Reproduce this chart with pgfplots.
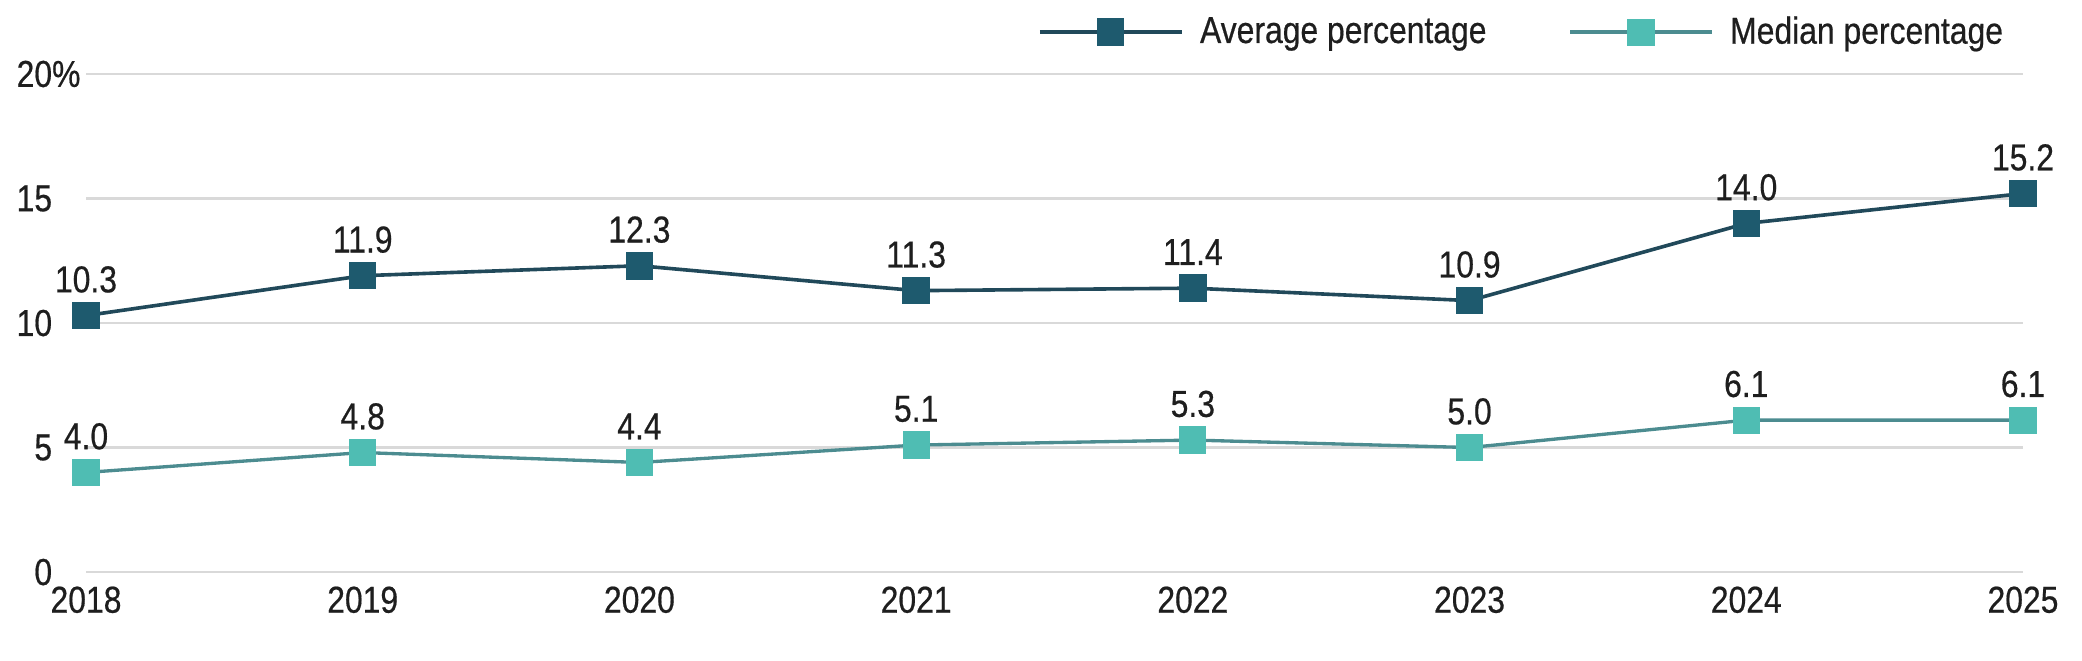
\documentclass[border=0pt]{standalone}
\usepackage{pgfplots}
\pgfplotsset{compat=1.18}
\usepackage{fontspec}
\setmainfont{Liberation Sans}[FakeStretch=0.85,FakeBold=0.5]
\definecolor{avgline}{HTML}{21495A}
\definecolor{avgmark}{HTML}{1E5A6E}
\definecolor{medline}{HTML}{4C8C90}
\definecolor{medmark}{HTML}{4FBDB3}
\definecolor{gridc}{HTML}{D9D9D9}
\definecolor{txt}{HTML}{1E1E1E}
\newcommand{\lblfont}{\fontsize{13.5}{16}\selectfont}
\begin{document}
\begin{tikzpicture}
\begin{axis}[
  name=ax, scale only axis, width=697.3pt, height=179.3pt,
  xmin=2018, xmax=2025, ymin=0, ymax=20,
  clip=false,
  axis line style={draw=none},
  major tick length=0pt,
  xtick={2018,2019,2020,2021,2022,2023,2024,2025},
  xticklabels={2018,2019,2020,2021,2022,2023,2024,2025},
  ytick={0,5,10,15,20},
  yticklabels={0,5,10,15,{20\rlap{\%}}},
  ymajorgrids, grid style={gridc, line width=0.8pt},
  xticklabel style={font=\lblfont, text=txt, anchor=north, inner sep=0pt, yshift=-5pt},
  yticklabel style={font=\lblfont, text=txt, anchor=east, inner sep=0pt, xshift=-12pt},
  /pgf/number format/assume math mode=true,
  nodes near coords={\pgfmathprintnumber[fixed,fixed zerofill,precision=1]{\pgfplotspointmeta}},
  nodes near coords style={font=\lblfont, text=txt, anchor=center, inner sep=0pt, yshift=13pt},
  legend columns=2,
  legend style={draw=none, fill=none, inner sep=0pt, font=\lblfont, text=txt,
    at={(axis description cs:0.990,1.084)}, anchor=east,
    nodes={inner sep=0pt},
    /tikz/every odd column/.append style={column sep=6pt},
    /tikz/every even column/.append style={column sep=29.5pt}},
  legend image code/.code={\draw[mark repeat=2,mark phase=2,#1] plot coordinates {(0pt,0pt) (25.5pt,0pt) (51pt,0pt)};},
]
\addplot[avgline, line width=1.3pt, mark=square*, mark size=4.3pt,
  mark options={fill=avgmark, draw=avgmark}] coordinates {
  (2018,10.3) (2019,11.9) (2020,12.3) (2021,11.3) (2022,11.4) (2023,10.9) (2024,14.0) (2025,15.2)};
\addlegendentry{Average percentage}
\addplot[medline, line width=1.2pt, mark=square*, mark size=4.3pt,
  mark options={fill=medmark, draw=medmark}] coordinates {
  (2018,4.0) (2019,4.8) (2020,4.4) (2021,5.1) (2022,5.3) (2023,5.0) (2024,6.1) (2025,6.1)};
\addlegendentry{Median percentage}
\end{axis}
\pgfresetboundingbox
\path[use as bounding box] ([shift={(-30.96pt,-31.68pt)}]ax.south west) rectangle ([shift={(21.24pt,26.64pt)}]ax.north east);
\end{tikzpicture}
\end{document}
